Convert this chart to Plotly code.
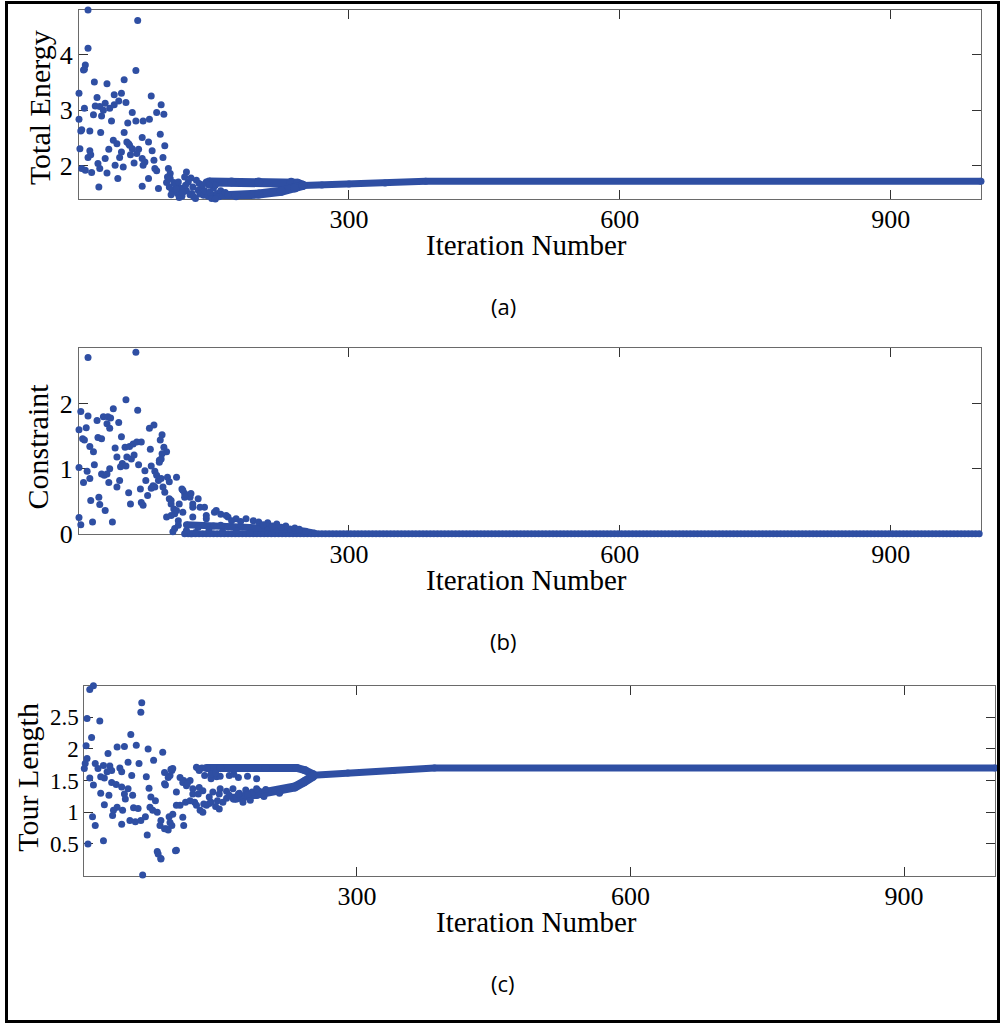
import plotly.graph_objects as go

W = 1002
REF_H = 1024      # reference picture height (positions below are read in its pixels)
FIG_H = 1040      # figure height
BLUE = "#2F4FA3"
SERIF = "Liberation Serif"
SANS = "Open Sans"

# ---------------- Panel (a): Total Energy ----------------
a_iter = [11, 66, 11, 8, 6, 7, 64, 18, 32, 51, 1, 21, 40, 48, 81, 19, 24, 30, 35, 40,
          45, 53, 92, 7, 60, 87, 95, 1, 17, 26, 37, 55, 64, 72, 79, 3, 13, 25, 51, 91,
          54, 56, 57, 71, 78, 39, 43, 2, 13, 34, 48, 60, 67, 82, 96, 11, 30, 46, 65, 71,
          74, 94, 22, 41, 50, 72, 4, 8, 15, 32, 24, 85, 100, 44, 78, 87, 102, 23, 71, 89,
          120, 4, 14, 28, 58, 62, 84, 99,
          102, 104, 106, 107, 108, 110, 111, 113, 115, 117, 118, 120, 122, 124, 126, 127,
          128, 130, 131, 133, 135, 137, 139, 140, 142, 144, 146, 148, 150, 152, 154, 156,
          158, 160, 163, 166, 101, 103, 112, 119, 125, 134, 145, 152, 98, 109, 116, 138]
a_val = [4.81, 4.62, 4.12, 3.82, 3.73, 3.74, 3.72, 3.51, 3.48, 3.55, 3.31, 3.23, 3.28, 3.31, 3.26, 3.08, 3.07, 3.13, 3.04, 3.10,
         3.17, 3.14, 3.10, 3.04, 2.96, 2.96, 2.93, 2.84, 2.92, 2.90, 2.81, 2.77, 2.81, 2.81, 2.84, 2.63, 2.63, 2.60, 2.60, 2.57,
         2.43, 2.40, 2.37, 2.51, 2.43, 2.46, 2.40, 2.31, 2.27, 2.30, 2.25, 2.31, 2.30, 2.27, 2.36, 2.15, 2.13, 2.15, 2.22, 2.13,
         2.07, 2.15, 2.04, 2.01, 1.98, 2.01, 1.95, 1.92, 1.88, 1.87, 1.95, 1.95, 1.95, 1.77, 1.77, 1.91, 1.86, 1.62, 1.63, 1.59,
         1.89, 2.65, 2.20, 3.00, 2.20, 2.05, 2.10, 1.80,
         1.77, 1.56, 1.70, 1.39, 1.65, 1.50, 1.71, 1.60, 1.45, 1.59, 1.80, 1.55, 1.71, 1.48, 1.50, 1.62,
         1.44, 1.41, 1.74, 1.56, 1.49, 1.62, 1.47, 1.55, 1.71, 1.45, 1.53, 1.41, 1.60, 1.65, 1.50, 1.44,
         1.55, 1.47, 1.52, 1.48, 1.62, 1.48, 1.43, 1.65, 1.78, 1.68, 1.65, 1.40, 1.70, 1.58, 1.52, 1.66]
a_up_iter = [145, 170, 200, 236, 243, 249]
a_up_val = [1.71, 1.71, 1.71, 1.705, 1.685, 1.65]
a_lo_iter = [150, 175, 200, 225, 240, 249]
a_lo_val = [1.45, 1.46, 1.49, 1.54, 1.60, 1.645]
a_tail_iter = [249, 270, 300, 340, 385, 1000]
a_tail_val = [1.645, 1.655, 1.67, 1.69, 1.72, 1.72]

# ---------------- Panel (b): Constraint ----------------
b_iter = [64, 11, 53, 3, 11, 66, 39, 21, 28, 33, 36, 45, 32, 35, 1, 9, 79, 84, 5, 7,
          22, 26, 48, 93, 91, 13, 17, 41, 52, 57, 61, 65, 70, 80, 95, 98, 93, 43, 54, 59,
          62, 92, 90, 49, 47, 53, 67, 1, 18, 81, 85, 35, 26, 29, 32, 10, 13, 74, 99, 101,
          109, 34, 46, 43, 6, 75, 89, 85, 69, 81, 77, 56, 23, 14, 24, 58, 70, 72, 30, 101,
          103, 106, 115, 118, 124, 133, 1, 3, 16, 38, 98, 107, 111, 105, 107, 111, 127, 127, 140, 142,
          151, 158, 166, 90, 87, 92, 83, 94, 96, 116, 118, 125, 103, 112, 109, 127, 103, 116, 135, 125,
          133, 153, 164, 175, 186, 194, 142, 158, 200, 210, 220, 230, 240, 245, 252, 180, 170, 205,
          215, 225, 120, 130, 145, 160, 175, 190]
b_val = [2.79, 2.71, 2.06, 1.88, 1.81, 1.90, 1.92, 1.74, 1.80, 1.80, 1.78, 1.71, 1.69, 1.62, 1.60, 1.63, 1.62, 1.67, 1.46, 1.44,
         1.48, 1.46, 1.49, 1.52, 1.44, 1.34, 1.26, 1.32, 1.33, 1.34, 1.38, 1.41, 1.41, 1.30, 1.33, 1.26, 1.23, 1.18, 1.18, 1.15,
         1.21, 1.15, 1.10, 1.08, 1.03, 1.04, 1.06, 1.02, 1.06, 1.04, 0.96, 1.00, 0.92, 0.90, 0.92, 0.96, 0.85, 0.97, 0.87, 0.80,
         0.87, 0.79, 0.82, 0.72, 0.79, 0.82, 0.82, 0.72, 0.69, 0.70, 0.59, 0.63, 0.56, 0.51, 0.45, 0.46, 0.48, 0.44, 0.36, 0.54,
         0.46, 0.38, 0.69, 0.62, 0.56, 0.54, 0.25, 0.14, 0.18, 0.18, 0.26, 0.31, 0.20, 0.03, 0.08, 0.13, 0.41, 0.26, 0.41, 0.28,
         0.33, 0.30, 0.26, 1.13, 0.90, 0.85, 0.74, 0.72, 0.64, 0.67, 0.56, 0.62, 0.51, 0.46, 0.36, 0.46, 0.28, 0.33, 0.41, 0.00,
         0.10, 0.36, 0.28, 0.23, 0.23, 0.20, 0.23, 0.13, 0.18, 0.17, 0.15, 0.12, 0.09, 0.07, 0.04, 0.19, 0.20, 0.14,
         0.12, 0.10, 0.05, 0.02, 0.06, 0.03, 0.05, 0.02]
b_thr_iter = [120, 150, 180, 210, 235, 250, 262]
b_thr_val = [0.14, 0.12, 0.11, 0.10, 0.07, 0.04, 0.01]
b_floor_level = 0.0          # converged value
b_floor_iter = list(range(118, 1001, 4))
b_floor_val = [b_floor_level] * len(b_floor_iter)

# ---------------- Panel (c): Tour Length ----------------
c_iter = [11, 7, 64, 63, 4, 18, 52, 9, 3, 37, 45, 27, 58, 71, 87, 77, 4, 2, 1, 13,
          16, 22, 29, 31, 26, 40, 42, 49, 61, 53, 69, 7, 19, 23, 97, 95, 11, 31, 36, 42,
          49, 72, 90, 19, 28, 45, 54, 74, 79, 23, 46, 37, 33, 43, 55, 60, 73, 76, 81, 10,
          13, 32, 42, 51, 57, 63, 68, 85, 84, 94, 97, 93, 91, 110, 5, 22, 70, 81, 85, 101,
          65,
          98, 106, 110, 113, 117, 102, 106, 102, 112, 120, 126, 122, 128, 131, 135, 126, 130, 133, 140, 146,
          142, 149, 153, 157, 138, 145, 149, 164, 171, 178, 185, 192, 168, 175, 183, 109, 114, 120, 127, 131,
          117, 124, 132, 140, 147, 138, 150, 157, 160, 96, 89, 93, 89, 109, 95, 89, 98, 102, 82, 85,
          124, 127, 170, 180, 190, 140, 150, 160, 170, 180, 190, 145, 165, 200, 210, 198, 215]
c_val = [3.00, 2.94, 2.73, 2.58, 2.48, 2.44, 2.23, 2.18, 2.05, 2.03, 2.04, 1.93, 2.06, 2.00, 1.95, 1.82, 1.85, 1.77, 1.69, 1.77,
         1.69, 1.74, 1.73, 1.66, 1.64, 1.70, 1.64, 1.79, 1.77, 1.58, 1.56, 1.54, 1.56, 1.54, 1.66, 1.58, 1.43, 1.47, 1.44, 1.40,
         1.37, 1.38, 1.43, 1.30, 1.27, 1.29, 1.27, 1.24, 1.18, 1.12, 1.21, 1.08, 1.03, 1.03, 1.07, 1.06, 1.08, 1.03, 1.00, 0.93,
         0.79, 0.95, 0.81, 0.87, 0.85, 0.87, 0.93, 0.87, 0.79, 0.93, 0.79, 0.72, 0.74, 0.79, 0.50, 0.55, 0.64, 0.38, 0.27, 0.39,
         0.01,
         1.69, 1.55, 1.50, 1.42, 1.50, 1.32, 1.11, 1.11, 1.16, 1.37, 1.29, 1.16, 1.03, 1.00, 1.11, 1.69, 1.70, 1.58, 1.53, 1.56,
         1.32, 1.29, 1.16, 1.22, 1.14, 1.09, 1.05, 1.37, 1.30, 1.35, 1.32, 1.34, 1.21, 1.16, 1.19, 1.47, 1.45, 1.29, 1.39, 1.34,
         1.18, 1.11, 1.13, 1.16, 1.18, 1.24, 1.37, 1.33, 1.27, 1.68, 1.63, 1.55, 1.45, 0.92, 0.84, 0.74, 0.97, 0.40, 0.34, 0.26,
         1.71, 1.66, 1.29, 1.28, 1.37, 1.60, 1.57, 1.58, 1.55, 1.57, 1.53, 1.62, 1.60, 1.36, 1.34, 1.25, 1.30]
c_up_iter = [135, 150, 200, 234, 243, 252]
c_up_val = [1.70, 1.70, 1.70, 1.70, 1.665, 1.60]
c_lo_iter = [165, 190, 215, 232, 242, 252]
c_lo_val = [1.22, 1.28, 1.33, 1.40, 1.48, 1.57]
c_tail_iter = [252, 290, 340, 385, 1000]
c_tail_val = [1.585, 1.62, 1.66, 1.70, 1.70]

# ---------------- axis tick labels / ranges ----------------
x_ticks = [300, 600, 900]
a_yticks = [2, 3, 4]
b_yticks = [0, 1, 2]
c_yticks = [0.5, 1, 1.5, 2, 2.5]
c_yticktext = ["0.5", "1", "1.5", "2", "2.5"]

fig = go.Figure()

def add_points(xs, ys, ax):
    fig.add_trace(go.Scatter(x=xs, y=ys, mode="markers", xaxis="x" + ax, yaxis="y" + ax,
                             marker=dict(size=7, color=BLUE, line=dict(width=0)),
                             cliponaxis=False, showlegend=False, hoverinfo="skip"))

def add_band(xs, ys, ax, w):
    fig.add_trace(go.Scatter(x=xs, y=ys, mode="lines+markers", xaxis="x" + ax, yaxis="y" + ax,
                             line=dict(width=w, color=BLUE),
                             marker=dict(size=w, color=BLUE, line=dict(width=0)),
                             cliponaxis=False, showlegend=False, hoverinfo="skip"))

add_band(a_tail_iter, a_tail_val, "", 7)
add_band(a_up_iter, a_up_val, "", 9)
add_band(a_lo_iter, a_lo_val, "", 9)
add_points(a_iter, a_val, "")

add_points(b_floor_iter, b_floor_val, "2")
add_band(b_thr_iter, b_thr_val, "2", 7)
add_points(b_iter, b_val, "2")

add_band(c_tail_iter, c_tail_val, "3", 7)
add_band(c_up_iter, c_up_val, "3", 8)
add_band(c_lo_iter, c_lo_val, "3", 9)
add_points(c_iter, c_val, "3")

def fy(p):
    return 1 - p / REF_H

def dom_x(l, r):
    return [l / W, r / W]

def dom_y(t, b):
    return [fy(b), fy(t)]

common = dict(showline=True, linecolor="#6a6a6a", linewidth=1, mirror="ticks",
              ticks="inside", ticklen=9, tickwidth=1, tickcolor="#333333",
              showgrid=False, zeroline=False, layer="below traces",
              tickfont=dict(family=SERIF, size=26, color="black"))

panels = [("", (79, 981), (10, 199), [1.398, 4.81], a_yticks, [str(v) for v in a_yticks], 26),
          ("2", (79, 981), (347.3, 533.3), [0, 2.86], b_yticks, [str(v) for v in b_yticks], 26),
          ("3", (84.3, 995.3), (685, 874.7), [0, 3.0], c_yticks, c_yticktext, 23)]

lay = {}
for ax, (l, r), (t, b), yr, yt, ytt, yfs in panels:
    lay["xaxis" + ax] = dict(common, domain=dom_x(l, r), range=[1, 1000], anchor="y" + ax,
                              tickvals=x_ticks, ticktext=[str(v) for v in x_ticks],
                              ticklabelstandoff=-3)
    yc = dict(common)
    yc["tickfont"] = dict(family=SERIF, size=yfs, color="black")
    lay["yaxis" + ax] = dict(yc, domain=dom_y(t, b), range=yr, anchor="x" + ax,
                              tickvals=yt, ticktext=ytt)

ann = []
def text(x, y, s, size, family=SERIF, angle=0):
    ann.append(dict(x=x / W, y=fy(y), xref="paper", yref="paper", text=s, showarrow=False,
                    xanchor="center", yanchor="middle", textangle=angle,
                    font=dict(family=family, size=size, color="black")))

text(526, 245, "Iteration Number", 29)
text(526, 579, "Iteration Number", 29)
text(536, 921, "Iteration Number", 29)
text(39, 108, "Total Energy", 30, angle=-90)
text(37, 446, "Constraint", 30, angle=-90)
text(28, 777, "Tour Length", 30, angle=-90)
text(503, 306, "(a)", 22, family=SANS)
text(503, 640, "(b)", 22, family=SANS)
text(503, 982, "(c)", 22, family=SANS)

fig.update_layout(width=W, height=FIG_H, margin=dict(l=0, r=0, t=0, b=0),
                  paper_bgcolor="white", plot_bgcolor="white",
                  annotations=ann, showlegend=False,
                  shapes=[dict(type="rect", xref="paper", yref="paper",
                               x0=6.5 / W, x1=998.5 / W, y0=fy(1020.5), y1=fy(2.5),
                               line=dict(color="black", width=3), fillcolor="rgba(0,0,0,0)")],
                  **lay)

fig.write_html("out.html")
